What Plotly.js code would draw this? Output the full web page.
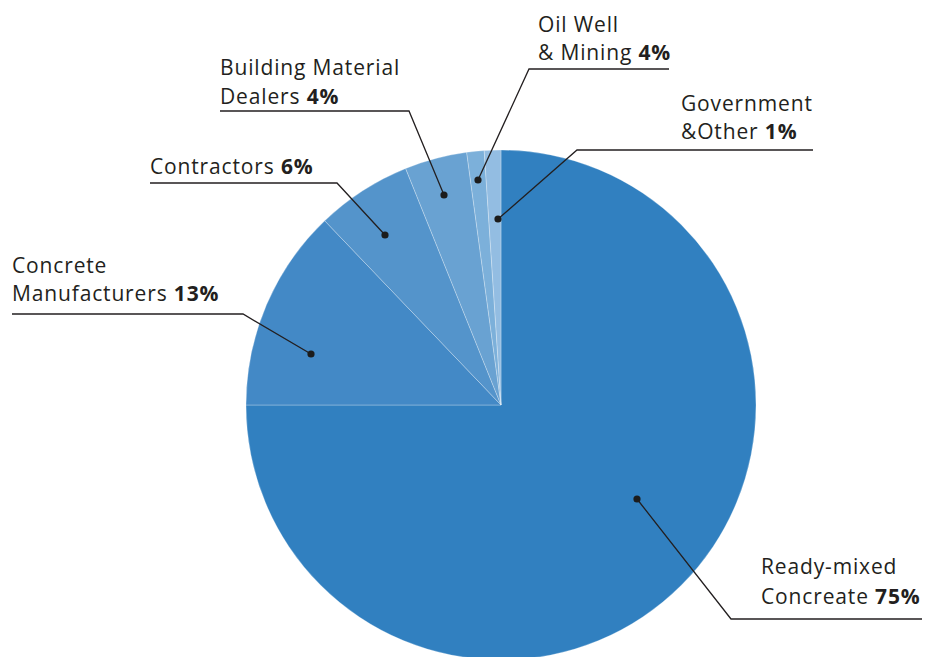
<!DOCTYPE html>
<html>
<head>
<meta charset="utf-8">
<script src="https://cdn.plot.ly/plotly-3.0.1.min.js"></script>
<style>
html,body{margin:0;padding:0;overflow:hidden;background:#fff;}
#chart{width:927px;height:700px;}
#chart .annotation-text{letter-spacing:0.85px;}
</style>
</head>
<body>
<div id="chart"></div>
<script>
// ---- data ----
const categories = ["Ready-mixed Concreate", "Concrete Manufacturers", "Contractors",
                    "Building Material Dealers", "Oil Well & Mining", "Government &Other"];
const values = [75, 12.85, 6.05, 3.95, 1.1, 1.05];
const percentLabels = ["75%", "13%", "6%", "4%", "4%", "1%"];
const labelLines = [
  ["Ready-mixed", "Concreate"],
  ["Concrete", "Manufacturers"],
  ["Contractors"],
  ["Building Material", "Dealers"],
  ["Oil Well", "& Mining"],
  ["Government", "&Other"]
];
const colors = ["#3180c0", "#4389c6", "#5494cb", "#69a2d2", "#7cb0da", "#93bde2"];

// ---- layout helpers (pixel -> paper) ----
const W = 927, H = 700;
const px = x => x / W;
const py = y => 1 - y / H;
const cx = 501, cy = 405, R = 255;

// label placement (layout only)
const labelPos = [
  {tx: 761, base: [573, 603], path: [[637, 499], [731, 619], [922, 619]]},
  {tx: 12,  base: [272, 300], path: [[311, 354], [243, 314], [12, 314]]},
  {tx: 150, base: [173],      path: [[385, 235], [337, 183], [150, 183]]},
  {tx: 220, base: [74, 103],  path: [[444, 195], [409, 111], [220, 111]]},
  {tx: 538, base: [31, 59],   path: [[478, 180], [529, 69], [669, 69]]},
  {tx: 681, base: [110, 138], path: [[498, 219], [577, 150], [813, 150]]}
];

const FONT = "'Open Sans', Lato, sans-serif";
const FS = 21;
const annotations = [];
const shapes = [];
labelPos.forEach((p, i) => {
  const lines = labelLines[i];
  lines.forEach((ln, j) => {
    let txt = ln;
    if (j === lines.length - 1) txt += " <b>" + percentLabels[i] + "</b>";
    annotations.push({
      xref: "paper", yref: "paper",
      x: px(p.tx - 2), y: py(p.base[j] - 7),
      xanchor: "left", yanchor: "middle", align: "left",
      text: txt, showarrow: false,
      font: {family: FONT, size: FS, color: "#231f20"}
    });
  });
  const d = p.path.map((pt, k) => (k ? "L" : "M") + px(pt[0]) + "," + py(pt[1])).join(" ");
  shapes.push({type: "path", xref: "paper", yref: "paper", path: d,
               line: {color: "#231f20", width: 1.3}});
  const [dx, dy] = p.path[0];
  shapes.push({type: "circle", xref: "paper", yref: "paper",
               x0: px(dx - 3.6), x1: px(dx + 3.6), y0: py(dy + 3.6), y1: py(dy - 3.6),
               fillcolor: "#1c1c1c", line: {width: 0}});
});

const trace = {
  type: "pie",
  labels: categories,
  values: values,
  sort: false,
  direction: "clockwise",
  rotation: 0,
  textinfo: "none",
  hoverinfo: "label+percent",
  marker: {colors: colors, line: {color: "rgba(255,255,255,0.45)", width: 0.6}},
  domain: {x: [px(cx - R), px(cx + R)], y: [py(cy + R), py(cy - R)]},
  showlegend: false
};

const layout = {
  width: W, height: H,
  margin: {l: 0, r: 0, t: 0, b: 0},
  paper_bgcolor: "#ffffff",
  showlegend: false,
  annotations: annotations,
  shapes: shapes
};

Plotly.newPlot("chart", [trace], layout, {displayModeBar: false, staticPlot: true});
</script>
</body>
</html>
